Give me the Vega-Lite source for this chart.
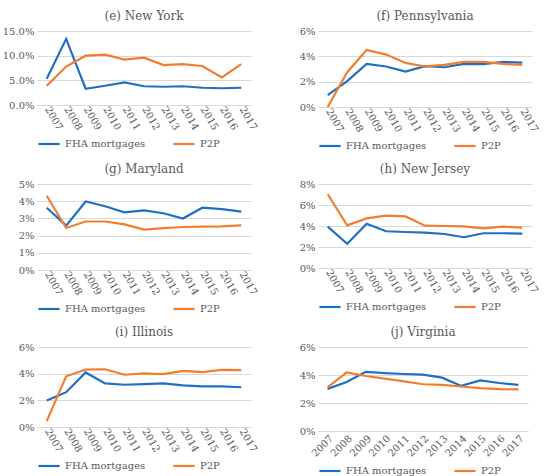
{
  "$schema": "https://vega.github.io/schema/vega-lite/v6.json",
  "padding": {"left": 2, "top": 10, "right": 4, "bottom": 2},
  "background": "white",
  "data": {"values": [
    {"state":"NY","year":"2007","FHA mortgages":0.053,"P2P":0.039},
    {"state":"NY","year":"2008","FHA mortgages":0.134,"P2P":0.078},
    {"state":"NY","year":"2009","FHA mortgages":0.033,"P2P":0.100},
    {"state":"NY","year":"2010","FHA mortgages":0.039,"P2P":0.102},
    {"state":"NY","year":"2011","FHA mortgages":0.046,"P2P":0.092},
    {"state":"NY","year":"2012","FHA mortgages":0.038,"P2P":0.096},
    {"state":"NY","year":"2013","FHA mortgages":0.037,"P2P":0.081},
    {"state":"NY","year":"2014","FHA mortgages":0.038,"P2P":0.083},
    {"state":"NY","year":"2015","FHA mortgages":0.035,"P2P":0.079},
    {"state":"NY","year":"2016","FHA mortgages":0.034,"P2P":0.056},
    {"state":"NY","year":"2017","FHA mortgages":0.035,"P2P":0.083},
    {"state":"PA","year":"2007","FHA mortgages":0.0094,"P2P":0.0},
    {"state":"PA","year":"2008","FHA mortgages":0.0204,"P2P":0.0275},
    {"state":"PA","year":"2009","FHA mortgages":0.034,"P2P":0.045},
    {"state":"PA","year":"2010","FHA mortgages":0.032,"P2P":0.0414},
    {"state":"PA","year":"2011","FHA mortgages":0.028,"P2P":0.0348},
    {"state":"PA","year":"2012","FHA mortgages":0.0322,"P2P":0.032},
    {"state":"PA","year":"2013","FHA mortgages":0.0314,"P2P":0.0332},
    {"state":"PA","year":"2014","FHA mortgages":0.034,"P2P":0.0356},
    {"state":"PA","year":"2015","FHA mortgages":0.0338,"P2P":0.0356},
    {"state":"PA","year":"2016","FHA mortgages":0.0356,"P2P":0.034},
    {"state":"PA","year":"2017","FHA mortgages":0.035,"P2P":0.0332},
    {"state":"MD","year":"2007","FHA mortgages":0.0362,"P2P":0.0432},
    {"state":"MD","year":"2008","FHA mortgages":0.0258,"P2P":0.0244},
    {"state":"MD","year":"2009","FHA mortgages":0.0398,"P2P":0.0282},
    {"state":"MD","year":"2010","FHA mortgages":0.0371,"P2P":0.0282},
    {"state":"MD","year":"2011","FHA mortgages":0.0335,"P2P":0.0265},
    {"state":"MD","year":"2012","FHA mortgages":0.0347,"P2P":0.0235},
    {"state":"MD","year":"2013","FHA mortgages":0.033,"P2P":0.0244},
    {"state":"MD","year":"2014","FHA mortgages":0.0299,"P2P":0.025},
    {"state":"MD","year":"2015","FHA mortgages":0.0362,"P2P":0.0252},
    {"state":"MD","year":"2016","FHA mortgages":0.0354,"P2P":0.0254},
    {"state":"MD","year":"2017","FHA mortgages":0.0339,"P2P":0.026},
    {"state":"NJ","year":"2007","FHA mortgages":0.0394,"P2P":0.0702},
    {"state":"NJ","year":"2008","FHA mortgages":0.023,"P2P":0.0406},
    {"state":"NJ","year":"2009","FHA mortgages":0.0422,"P2P":0.0472},
    {"state":"NJ","year":"2010","FHA mortgages":0.035,"P2P":0.0498},
    {"state":"NJ","year":"2011","FHA mortgages":0.0343,"P2P":0.0491},
    {"state":"NJ","year":"2012","FHA mortgages":0.0337,"P2P":0.0403},
    {"state":"NJ","year":"2013","FHA mortgages":0.0324,"P2P":0.040},
    {"state":"NJ","year":"2014","FHA mortgages":0.0293,"P2P":0.0397},
    {"state":"NJ","year":"2015","FHA mortgages":0.0331,"P2P":0.0378},
    {"state":"NJ","year":"2016","FHA mortgages":0.0331,"P2P":0.0394},
    {"state":"NJ","year":"2017","FHA mortgages":0.0328,"P2P":0.0384},
    {"state":"IL","year":"2007","FHA mortgages":0.0198,"P2P":0.0044},
    {"state":"IL","year":"2008","FHA mortgages":0.0261,"P2P":0.038},
    {"state":"IL","year":"2009","FHA mortgages":0.0409,"P2P":0.0431},
    {"state":"IL","year":"2010","FHA mortgages":0.0327,"P2P":0.0433},
    {"state":"IL","year":"2011","FHA mortgages":0.0317,"P2P":0.0392},
    {"state":"IL","year":"2012","FHA mortgages":0.0322,"P2P":0.0402},
    {"state":"IL","year":"2013","FHA mortgages":0.0327,"P2P":0.0397},
    {"state":"IL","year":"2014","FHA mortgages":0.0312,"P2P":0.0421},
    {"state":"IL","year":"2015","FHA mortgages":0.0305,"P2P":0.0412},
    {"state":"IL","year":"2016","FHA mortgages":0.0305,"P2P":0.0429},
    {"state":"IL","year":"2017","FHA mortgages":0.0298,"P2P":0.0426},
    {"state":"VA","year":"2007","FHA mortgages":0.0301,"P2P":0.0311},
    {"state":"VA","year":"2008","FHA mortgages":0.035,"P2P":0.0418},
    {"state":"VA","year":"2009","FHA mortgages":0.0423,"P2P":0.0393},
    {"state":"VA","year":"2010","FHA mortgages":0.0414,"P2P":0.0374},
    {"state":"VA","year":"2011","FHA mortgages":0.0407,"P2P":0.0355},
    {"state":"VA","year":"2012","FHA mortgages":0.0402,"P2P":0.0334},
    {"state":"VA","year":"2013","FHA mortgages":0.0381,"P2P":0.0329},
    {"state":"VA","year":"2014","FHA mortgages":0.0322,"P2P":0.0318},
    {"state":"VA","year":"2015","FHA mortgages":0.0362,"P2P":0.0306},
    {"state":"VA","year":"2016","FHA mortgages":0.0343,"P2P":0.0299},
    {"state":"VA","year":"2017","FHA mortgages":0.0329,"P2P":0.0297}
  ]},
  "config": {
    "font": "DejaVu Serif",
    "view": {"stroke": null},
    "style": {
      "guide-label": {"font": "DejaVu Serif", "fontSize": 10, "fill": "#595959"}
    },
    "title": {"font": "DejaVu Serif", "fontSize": 12, "fontWeight": "normal", "color": "#595959", "offset": 3},
    "axis": {"labelFont": "DejaVu Serif", "labelFontSize": 10, "labelColor": "#595959", "ticks": false, "title": null, "gridColor": "#D9D9D9", "domainColor": "#D9D9D9", "labelPadding": 3},
    "axisY": {"domain": false},
    "axisX": {"grid": false, "labelAngle": 60, "labelPadding": 2},
    "legend": {"orient": "bottom", "direction": "horizontal", "title": null, "labelFont": "DejaVu Serif", "labelFontSize": 10, "labelColor": "#595959", "symbolType": "stroke", "symbolSize": 450, "symbolStrokeWidth": 2.5, "columnPadding": 22, "offset": 0, "padding": 0},
    "line": {"strokeWidth": 2.2},
    "concat": {"spacing": 40}
  },
  "vconcat": [
    {"hconcat": [
      {"width": 214, "height": 74, "title": "(e) New York",
       "transform": [{"filter": "datum.state === 'NY'"}, {"fold": ["FHA mortgages", "P2P"], "as": ["series", "value"]}],
       "mark": "line",
       "encoding": {
         "x": {"field": "year", "type": "ordinal", "scale": {"type": "point", "padding": 0.5}},
         "y": {"field": "value", "type": "quantitative", "scale": {"domain": [0, 0.15]}, "axis": {"format": ".1%", "values": [0, 0.05, 0.1, 0.15]}},
         "color": {"field": "series", "type": "nominal", "scale": {"domain": ["FHA mortgages", "P2P"], "range": ["#1F6FC5", "#F07E2E"]}}
       }},
      {"width": 214, "height": 76, "title": "(f) Pennsylvania",
       "transform": [{"filter": "datum.state === 'PA'"}, {"fold": ["FHA mortgages", "P2P"], "as": ["series", "value"]}],
       "mark": "line",
       "encoding": {
         "x": {"field": "year", "type": "ordinal", "scale": {"type": "point", "padding": 0.5}},
         "y": {"field": "value", "type": "quantitative", "scale": {"domain": [0, 0.06]}, "axis": {"format": ".0%", "values": [0, 0.02, 0.04, 0.06]}},
         "color": {"field": "series", "type": "nominal", "scale": {"domain": ["FHA mortgages", "P2P"], "range": ["#1F6FC5", "#F07E2E"]}}
       }}
    ], "resolve": {"scale": {"x": "independent", "y": "independent", "color": "independent"}, "legend": {"color": "independent"}}},
    {"hconcat": [
      {"width": 214, "height": 86, "title": "(g) Maryland",
       "transform": [{"filter": "datum.state === 'MD'"}, {"fold": ["FHA mortgages", "P2P"], "as": ["series", "value"]}],
       "mark": "line",
       "encoding": {
         "x": {"field": "year", "type": "ordinal", "scale": {"type": "point", "padding": 0.5}},
         "y": {"field": "value", "type": "quantitative", "scale": {"domain": [0, 0.05]}, "axis": {"format": ".0%", "values": [0, 0.01, 0.02, 0.03, 0.04, 0.05]}},
         "color": {"field": "series", "type": "nominal", "scale": {"domain": ["FHA mortgages", "P2P"], "range": ["#1F6FC5", "#F07E2E"]}}
       }},
      {"width": 214, "height": 84, "title": "(h) New Jersey",
       "transform": [{"filter": "datum.state === 'NJ'"}, {"fold": ["FHA mortgages", "P2P"], "as": ["series", "value"]}],
       "mark": "line",
       "encoding": {
         "x": {"field": "year", "type": "ordinal", "scale": {"type": "point", "padding": 0.5}},
         "y": {"field": "value", "type": "quantitative", "scale": {"domain": [0, 0.08]}, "axis": {"format": ".0%", "values": [0, 0.02, 0.04, 0.06, 0.08]}},
         "color": {"field": "series", "type": "nominal", "scale": {"domain": ["FHA mortgages", "P2P"], "range": ["#1F6FC5", "#F07E2E"]}}
       }}
    ], "resolve": {"scale": {"x": "independent", "y": "independent", "color": "independent"}, "legend": {"color": "independent"}}},
    {"hconcat": [
      {"width": 214, "height": 80, "title": "(i) Illinois",
       "transform": [{"filter": "datum.state === 'IL'"}, {"fold": ["FHA mortgages", "P2P"], "as": ["series", "value"]}],
       "mark": "line",
       "encoding": {
         "x": {"field": "year", "type": "ordinal", "scale": {"type": "point", "padding": 0.5}},
         "y": {"field": "value", "type": "quantitative", "scale": {"domain": [0, 0.06]}, "axis": {"format": ".0%", "values": [0, 0.02, 0.04, 0.06]}},
         "color": {"field": "series", "type": "nominal", "scale": {"domain": ["FHA mortgages", "P2P"], "range": ["#1F6FC5", "#F07E2E"]}}
       }},
      {"width": 210, "height": 84, "title": "(j) Virginia",
       "transform": [{"filter": "datum.state === 'VA'"}, {"fold": ["FHA mortgages", "P2P"], "as": ["series", "value"]}],
       "mark": "line",
       "encoding": {
         "x": {"field": "year", "type": "ordinal", "scale": {"type": "point", "padding": 0.5}, "axis": {"labelAngle": -45}},
         "y": {"field": "value", "type": "quantitative", "scale": {"domain": [0, 0.06]}, "axis": {"format": ".0%", "values": [0, 0.02, 0.04, 0.06]}},
         "color": {"field": "series", "type": "nominal", "scale": {"domain": ["FHA mortgages", "P2P"], "range": ["#1F6FC5", "#F07E2E"]}}
       }}
    ], "resolve": {"scale": {"x": "independent", "y": "independent", "color": "independent"}, "legend": {"color": "independent"}}}
  ],
  "spacing": 12,
  "resolve": {"scale": {"x": "independent", "y": "independent", "color": "independent"}, "legend": {"color": "independent"}}
}
